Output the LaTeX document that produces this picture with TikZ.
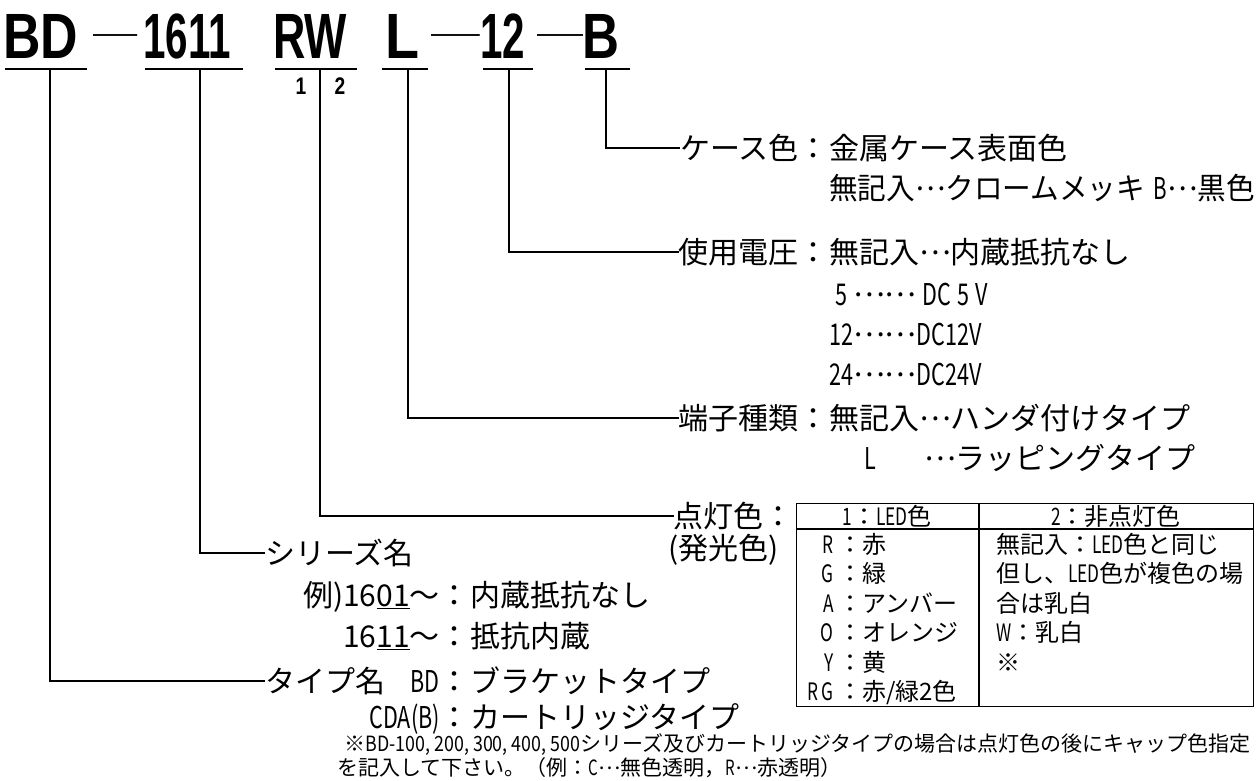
\documentclass[tikz,border=0pt]{standalone}
\usepackage{graphicx}
\usepackage{fontspec}
\setmainfont{Noto Sans CJK JP}
\newfontfamily\headfont{Liberation Sans}
\usetikzlibrary{calc}
\newcommand{\nr}[1]{\scalebox{0.72}[1]{#1}}
\newcommand{\ten}{\raisebox{0.3em}{…}}
\tikzset{
  conn/.style={line width=1.1pt},
  head/.style={inner sep=0pt, anchor=base west, font=\headfont\bfseries\fontsize{64}{70}\selectfont},
  sub/.style={inner sep=0pt, anchor=base, font=\headfont\bfseries\fontsize{24}{30}\selectfont},
  hdash/.style={inner sep=0pt, anchor=base west, font=\headfont\fontsize{46}{50}\selectfont},
  lab/.style={inner sep=0pt, font=\fontsize{30}{34}\selectfont, text height=26.4pt, text depth=3.6pt},
  tab/.style={inner sep=0pt, font=\fontsize{24}{28}\selectfont, text height=21.1pt, text depth=2.9pt},
  note/.style={inner sep=0pt, font=\fontsize{21}{24}\selectfont, text height=17.5pt, text depth=2pt}
}
\begin{document}
\begin{tikzpicture}[x=1pt, y=-1pt]
\useasboundingbox (0,0) rectangle (1259,780);

% part number
\node[head] (hBD) at (3,58) {\scalebox{0.81}[1]{BD}};
\node[hdash] (d1) at (93,42.5) {\scalebox{0.96}[0.6]{—}};
\node[head] (h1611) at (143,58) {\scalebox{0.63}[1]{1611}};
\node[head] (hRW) at (273,58) {\scalebox{0.70}[1]{RW}};
\node[head] (hL) at (385,58) {\scalebox{0.87}[1]{L}};
\node[hdash] (d2) at (431,42.5) {\scalebox{1.06}[0.6]{—}};
\node[head] (h12) at (480,58) {\scalebox{0.63}[1]{12}};
\node[hdash] (d3) at (537,42.5) {\scalebox{1.0}[0.6]{—}};
\node[head] (hB) at (582,58) {\scalebox{0.80}[1]{B}};
\node[sub] (rw1) at (301,94) {\scalebox{0.8}[1]{1}};
\node[sub] (rw2) at (340,94) {\scalebox{0.8}[1]{2}};

% underlines
\foreach \a/\b in {5/87, 145/243, 275/357, 382/428, 483/533, 585/630}
  \draw[conn] (\a,69) -- (\b,69);
\coordinate (uBD) at (50,69);
\coordinate (u1611) at (200,69);
\coordinate (uRW) at (320,69);
\coordinate (uL) at (408,69);
\coordinate (u12) at (509,69);
\coordinate (uB) at (606,69);

% case colour
\node[lab, anchor=east] (lCase) at (829,148) {ケース色：};
\node[lab, anchor=west] (vCase) at (829,148) {金属ケース表面色};
\node[lab, anchor=west] (vCase2) at (829,188) {\scalebox{0.955}[1]{無記入\ten クロームメッキ\hspace{9pt}\nr{B}\ten 黒色}};

% voltage
\node[lab, anchor=east] (lVolt) at (829,252) {使用電圧：};
\node[lab, anchor=west] (vVolt) at (829,252) {無記入\ten 内蔵抵抗なし};
\node[lab, anchor=west] (v5) at (835,294) {\nr{5}\hspace{0.2em}\ten\ten\hspace{0.2em}\nr{DC}\hspace{0.2em}\nr{5}\hspace{0.2em}\nr{V}};
\node[lab, anchor=west] (v12) at (829,334) {\nr{12}\ten\ten\nr{DC12V}};
\node[lab, anchor=west] (v24) at (829,374) {\nr{24}\ten\ten\nr{DC24V}};

% terminal
\node[lab, anchor=east] (lTerm) at (829,418) {端子種類：};
\node[lab, anchor=west] (vTerm) at (829,418) {無記入\ten ハンダ付けタイプ};
\node[lab, anchor=west] (vTermL) at (864,458) {\nr{L}};
\node[lab, anchor=west] (vTerm2) at (924,458) {\ten ラッピングタイプ};

% lighting colour
\node[lab, anchor=east] (lLit) at (794,516) {点灯色：};
\node[lab, anchor=west] (lLit2) at (668,548) {(発光色)};

% series
\node[lab, anchor=west] (lSer) at (265,553) {シリーズ名};
\node[lab, anchor=east] (vSer1) at (470,595) {例)16\underline{01}～：};
\node[lab, anchor=west] (vSer1b) at (470,595) {内蔵抵抗なし};
\node[lab, anchor=east] (vSer2) at (470,636) {16\underline{11}～：};
\node[lab, anchor=west] (vSer2b) at (470,636) {抵抗内蔵};

% type
\node[lab, anchor=west] (lType) at (265,681) {タイプ名};
\node[lab, anchor=east] (vBD) at (470,681) {\nr{BD}：};
\node[lab, anchor=west] (vBDb) at (470,681) {ブラケットタイプ};
\node[lab, anchor=east] (vCDA) at (470,717) {\nr{CDA(B)}：};
\node[lab, anchor=west] (vCDAb) at (470,717) {カートリッジタイプ};

% leaders
\draw[conn] (uB) |- (lCase.west);
\draw[conn] (u12) |- (lVolt.west);
\draw[conn] (uL) |- (lTerm.west);
\draw[conn] (uRW) |- (lLit.west);
\draw[conn] (u1611) |- (lSer.west);
\draw[conn] (uBD) |- (lType.west);

% colour table
\node[draw, line width=1.1pt, inner sep=0pt, minimum width=457pt, minimum height=203pt, anchor=north west] (tbl) at (796,503) {};
\draw[conn] ($(tbl.north west)+(0,26)$) -- ($(tbl.north east)+(0,26)$);
\draw[conn] ($(tbl.north west)+(183,0)$) -- ($(tbl.south west)+(183,0)$);
\node[tab] (t1) at (887,516) {\nr{1}：\nr{LED}色};
\node[tab] (t2) at (1116,516) {\nr{2}：非点灯色};
\foreach \k/\v [count=\i] in {R/赤, G/緑, A/アンバー, O/オレンジ, Y/黄, {R G}/{赤/緑2色}} {
  \node[tab, anchor=east] (k\i) at (834,{514.5+29.5*\i}) {\nr{\k}};
  \node[tab, anchor=west] (c\i) at (838,{514.5+29.5*\i}) {：\v};
}
\foreach \t [count=\i] in {無記入：\nr{LED}色と同じ, 但し、\nr{LED}色が複色の場, 合は乳白, \nr{W}：乳白, ※}
  \node[tab, anchor=west] (r\i) at (996,{514.5+29.5*\i}) {\t};

% note
\node[note, anchor=east] (n1) at (1251,744) {※\scalebox{0.85}[1]{BD-100, 200, 300, 400, 500}シリーズ及びカートリッジタイプの場合は点灯色の後にキャップ色指定};
\node[note, anchor=west] (n2) at (337,768) {を記入して下さい。（例：\nr{C}\ten 無色透明，\nr{R}\ten 赤透明）};
\end{tikzpicture}
\end{document}
